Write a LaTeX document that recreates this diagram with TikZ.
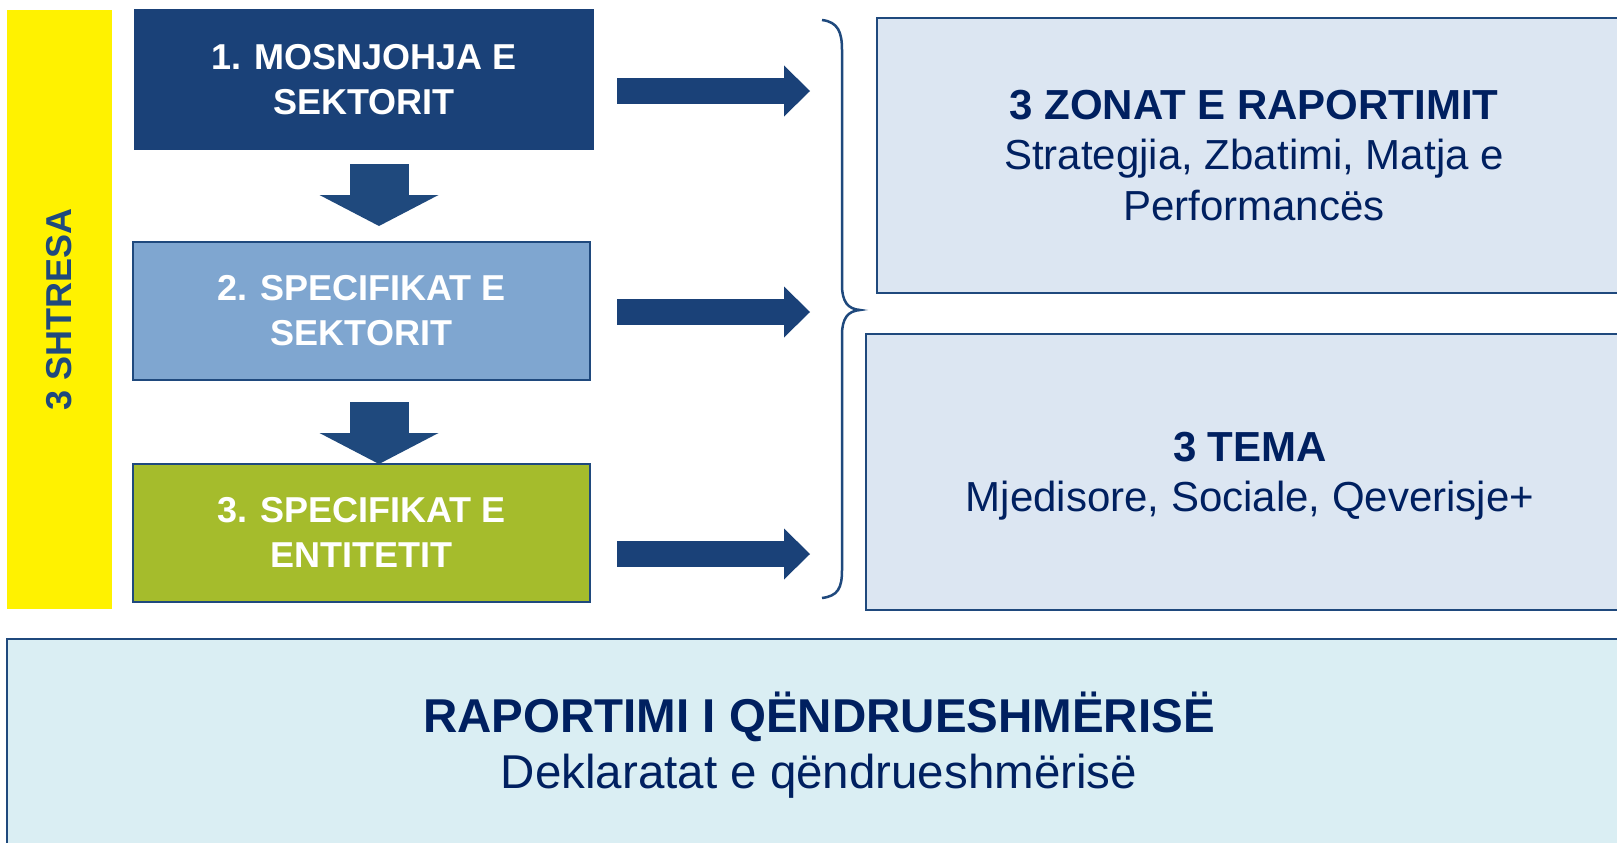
\documentclass[tikz,border=0pt]{standalone}
\usepackage{fontspec}
\setmainfont{Liberation Sans}
\usetikzlibrary{arrows.meta}

\definecolor{navy}{HTML}{1A4178}
\definecolor{edgeblue}{HTML}{1F497D}
\definecolor{midblue}{HTML}{7FA6D0}
\definecolor{olive}{HTML}{A5BC2C}
\definecolor{paleblue}{HTML}{DCE6F2}
\definecolor{paleaqua}{HTML}{DAEEF3}
\definecolor{inkblue}{HTML}{002060}

\tikzset{
  stage/.style={draw=edgeblue, line width=2pt, minimum width=457, minimum height=138,
    text=white, align=center, font=\bfseries\fontsize{36}{45}\selectfont},
  panel/.style={draw=edgeblue, line width=2pt, fill=paleblue, text=inkblue,
    align=center, font=\fontsize{42}{50.5}\selectfont},
  rightarrow/.style={color=navy, line width=26pt,
    -{Triangle[length=26pt,width=51pt,line width=0pt]}},
  downarrow/.style={color=edgeblue, line width=59pt,
    -{Triangle[length=31pt,width=119pt,line width=0pt]}},
}

\begin{document}
\begin{tikzpicture}[x=1pt,y=-1pt]
  \clip (0,0) rectangle (1617,843);
  \fill[white] (0,0) rectangle (1617,843);

  % layers bar
  \node[fill=yellow, rotate=90, minimum width=599, minimum height=105,
        text=edgeblue, font=\bfseries\fontsize{36}{40}\selectfont] (layers) at (59.5,309.5) {3 SHTRESA};

  % the three stages
  \node[stage, fill=navy, draw=navy, minimum width=458] (sec1) at (364,79.5) {1. MOSNJOHJA E\\SEKTORIT};
  \node[stage, fill=midblue] (sec2) at (361.5,311) {2. SPECIFIKAT E\\SEKTORIT};
  \node[stage, fill=olive] (sec3) at (361.5,532.5) {3. SPECIFIKAT E\\ENTITETIT};

  \draw[downarrow] (379,164) -- (379,226);
  \draw[downarrow] (379,402) -- (379,464);

  % arrows towards the brace
  \coordinate (a1) at (617,91);  \coordinate (b1) at (810,91);
  \coordinate (a2) at (617,312); \coordinate (b2) at (810,312);
  \coordinate (a3) at (617,554); \coordinate (b3) at (810,554);
  \draw[rightarrow] (a1) -- (b1);
  \draw[rightarrow] (a2) -- (b2);
  \draw[rightarrow] (a3) -- (b3);

  % brace
  \draw[edgeblue, line width=2.5pt] (822,20) .. controls (838,22) and (842,32) .. (842,50)
    -- (842,285) .. controls (842,302) and (848,309) .. (860,310)
    .. controls (848,311) and (842,318) .. (842,335)
    -- (842,570) .. controls (842,588) and (838,596) .. (822,598);

  % right panels
  \node[panel, minimum width=754, minimum height=275] (zones) at (1254,155.5)
    {\textbf{3 ZONAT E RAPORTIMIT}\\Strategjia, Zbatimi, Matja e\\Performancës};
  \node[panel, minimum width=768, minimum height=276, text depth=0pt] (themes) at (1250,472)
    {\textbf{3 TEMA}\\Mjedisore, Sociale, Qeverisje+};

  % reporting
  \node[panel, fill=paleaqua, minimum width=1624, minimum height=212,
        font=\fontsize{47.5}{56}\selectfont] (report) at (819,745)
    {\textbf{RAPORTIMI I QËNDRUESHMËRISË}\\Deklaratat e qëndrueshmërisë};
\end{tikzpicture}
\end{document}
